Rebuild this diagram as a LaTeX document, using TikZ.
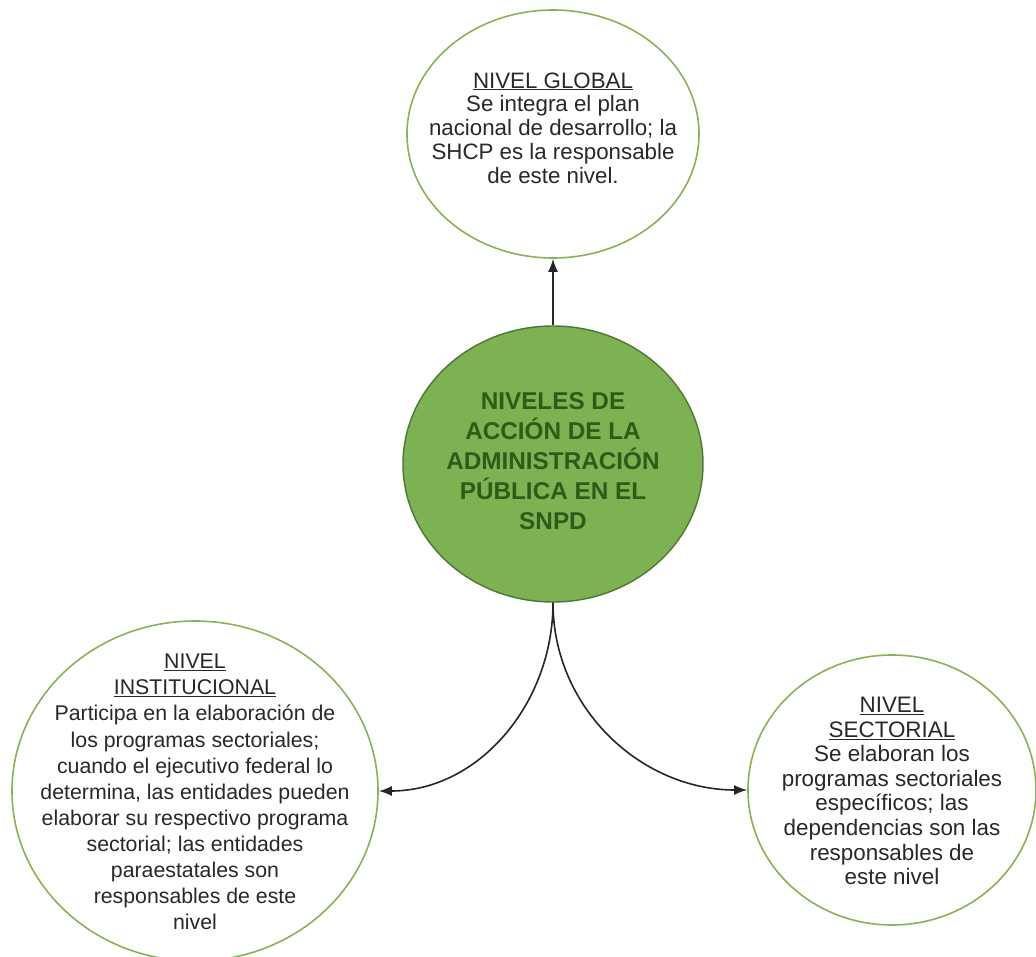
\documentclass[tikz,border=0pt]{standalone}
\usepackage{fontspec}
\setmainfont{Liberation Sans}
\usetikzlibrary{shapes.geometric,arrows.meta}
\definecolor{cfill}{RGB}{124,178,82}
\definecolor{cborder}{RGB}{78,118,52}
\definecolor{ctext}{RGB}{44,92,26}
\definecolor{oborder}{RGB}{140,176,84}
\definecolor{btext}{RGB}{40,40,40}
\begin{document}
\begin{tikzpicture}[x=1pt,y=-1pt,
  oval/.style={ellipse,draw=oborder,line width=1.6pt,fill=white,inner sep=0pt},
  mainoval/.style={ellipse,draw=cborder,line width=1.4pt,fill=cfill,inner sep=0pt},
  bodytext/.style={align=center,text=btext,inner sep=0pt},
  conn/.style={line width=1.6pt,draw=black!85,-{Latex[length=13pt,width=10pt]}}
]
\useasboundingbox (0,0) rectangle (1036,957);
\fill[white] (0,0) rectangle (1036,957);

\node[oval,minimum width=292pt,minimum height=248pt] (top) at (553,134) {};
\node[mainoval,minimum width=300pt,minimum height=276pt] (ctr) at (553,464) {};
\node[oval,minimum width=366pt,minimum height=340pt] (left) at (195,791) {};
\node[oval,minimum width=288pt,minimum height=270pt] (right) at (892,790) {};

\node[bodytext,font=\fontsize{22.3}{23.8}\selectfont] (toptxt) at (553,128)
  {\underline{NIVEL GLOBAL}\\Se integra el plan\\nacional de desarrollo; la\\SHCP es la responsable\\de este nivel.};
\node[align=center,text=ctext,inner sep=0pt,font=\fontsize{24.3}{30}\selectfont\bfseries] (ctrtxt) at (553,461)
  {NIVELES DE\\ACCIÓN DE LA\\ADMINISTRACIÓN\\PÚBLICA EN EL\\SNPD};
\node[bodytext,font=\fontsize{21.3}{26.1}\selectfont] (lefttxt) at (195,792)
  {\underline{NIVEL}\\\underline{INSTITUCIONAL}\\Participa en la elaboración de\\los programas sectoriales;\\cuando el ejecutivo federal lo\\determina, las entidades pueden\\elaborar su respectivo programa\\sectorial; las entidades\\paraestatales son\\responsables de este\\nivel};
\node[bodytext,font=\fontsize{22.4}{24.6}\selectfont] (righttxt) at (892,791)
  {\underline{NIVEL}\\\underline{SECTORIAL}\\Se elaboran los\\programas sectoriales\\específicos; las\\dependencias son las\\responsables de\\este nivel};

\draw[conn] (ctr.north) -- (top.south);
\draw[conn] (ctr.south) to[out=-90,in=0] (left.east);
\draw[conn] (ctr.south) to[out=-90,in=180] (right.west);
\end{tikzpicture}
\end{document}
